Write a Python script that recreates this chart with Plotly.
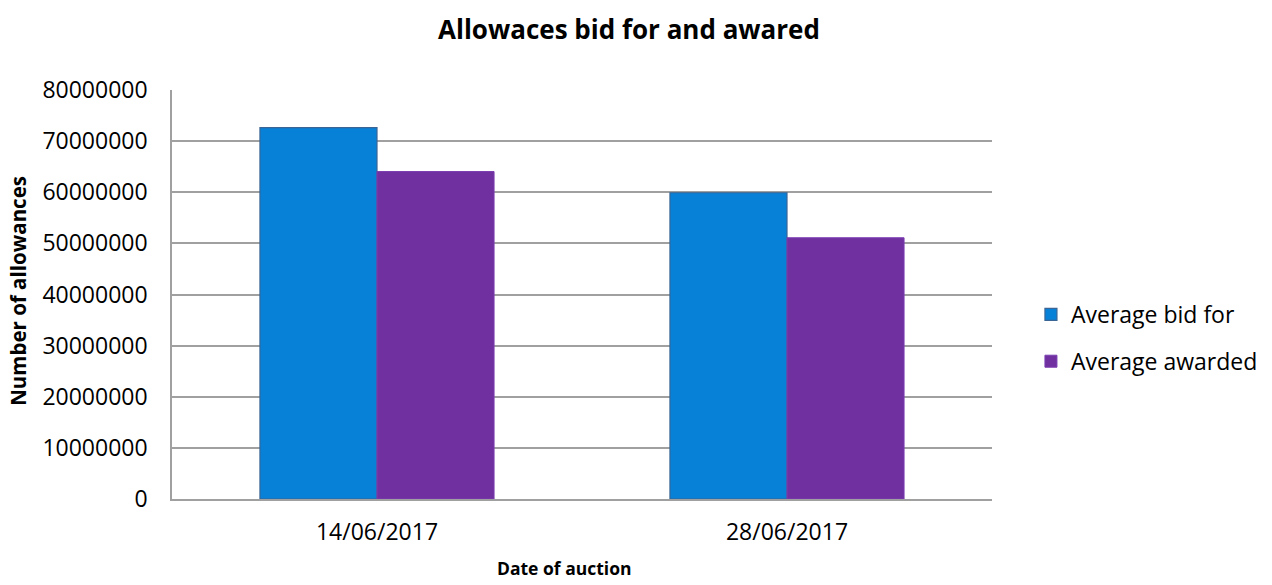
import plotly.graph_objects as go

categories = ["14/06/2017", "28/06/2017"]
bid_for = [72650000, 59900000]
awarded = [64050000, 51100000]
y_ticks = [0, 10000000, 20000000, 30000000, 40000000, 50000000, 60000000, 70000000, 80000000]

FONT = "Open Sans, Liberation Sans, sans-serif"

fig = go.Figure()
fig.add_trace(go.Bar(x=categories, y=bid_for, name="Average bid for", legendgroup="a",
                     marker=dict(color="#0780D8", line=dict(color="#3A6595", width=1.2))))
fig.add_trace(go.Bar(x=categories, y=awarded, name="Average awarded", legendgroup="b",
                     marker=dict(color="#7030A0", line=dict(color="#7A3DB0", width=1))))

fig.update_layout(
    width=1264, height=577,
    margin=dict(l=164, r=280, t=82, b=86, autoexpand=False),
    paper_bgcolor="white", plot_bgcolor="white",
    font=dict(family=FONT, size=23, color="black"),
    title=dict(text="<b>Allowaces bid for and awared</b>", x=0.4913, xanchor="center",
               xref="container", yref="container",
               y=0.962, yanchor="middle", font=dict(size=26)),
    barmode="group", bargap=0.429, bargroupgap=0,
    showlegend=True,
    legend=dict(x=1.0475, xanchor="left", y=0.394, yanchor="middle",
                font=dict(size=23), traceorder="grouped", tracegroupgap=14, itemwidth=30),
    xaxis=dict(showline=True, linecolor="#A0A0A0", linewidth=1.5, automargin=False,
               ticks="", ticklabelstandoff=12),
    yaxis=dict(range=[0, 80000000], tickvals=y_ticks, ticktext=[str(v) for v in y_ticks],
               showline=True, linecolor="#A0A0A0", linewidth=1.5, automargin=False,
               showgrid=True, gridcolor="#A0A0A0", gridwidth=1.5,
               zeroline=False, ticks="", ticklabelstandoff=18),
    annotations=[
        dict(text="<b>Date of auction</b>", xref="paper", yref="paper",
             x=0.479, y=-0.1687, xanchor="center", yanchor="middle",
             showarrow=False, font=dict(size=17.5)),
        dict(text="<b>Number of allowances</b>", xref="paper", yref="paper",
             x=-0.1878, y=0.509, xanchor="center", yanchor="middle", textangle=-90,
             showarrow=False, font=dict(size=20.5)),
    ],
)

fig.write_html("out.html")
